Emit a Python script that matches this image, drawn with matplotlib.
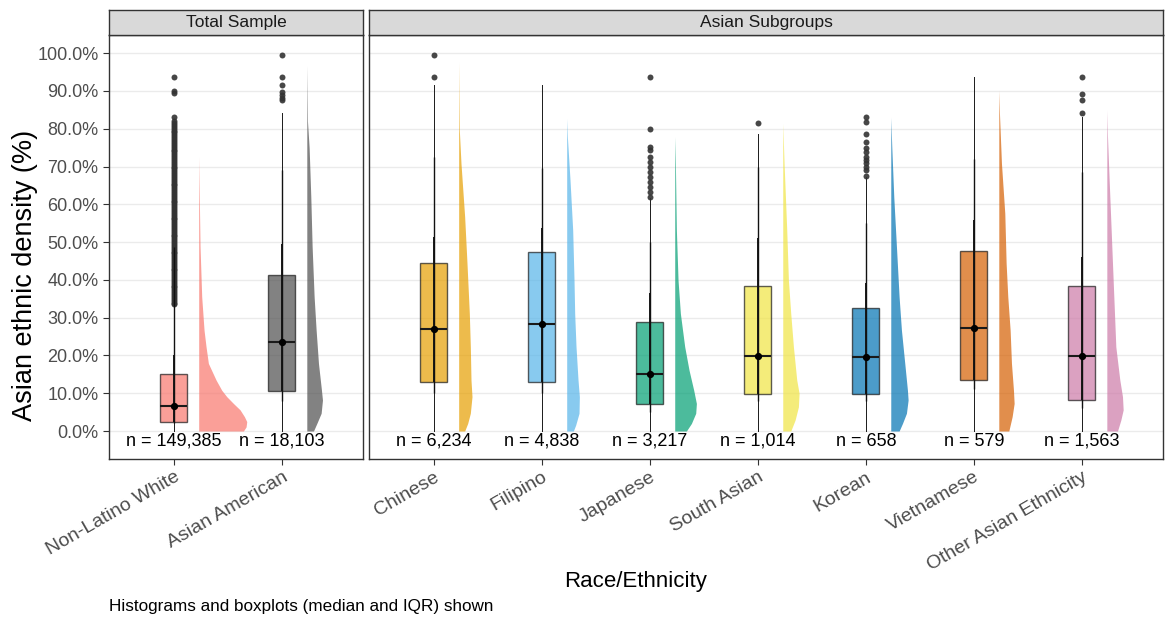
import matplotlib
matplotlib.use("Agg")
import matplotlib.pyplot as plt
from matplotlib.ticker import FuncFormatter

plt.rcParams['font.family'] = ['Liberation Sans', 'DejaVu Sans']

# ---- data (percent) ----
total_groups = ["Non-Latino White", "Asian American"]
asian_groups = ["Chinese", "Filipino", "Japanese", "South Asian", "Korean",
                "Vietnamese", "Other Asian Ethnicity"]
groups = total_groups + asian_groups

n_obs = [149385, 18103, 6234, 4838, 3217, 1014, 658, 579, 1563]

q1 = [2.5, 10.7, 12.9, 12.9, 7.1, 9.7, 9.7, 13.5, 8.2]
median = [6.7, 23.5, 27.1, 28.2, 15.0, 19.9, 19.7, 27.3, 19.8]
q3 = [15.0, 41.4, 44.4, 47.4, 28.8, 38.4, 32.6, 47.6, 38.4]
whisker_lo = [0, 0, 0, 0, 0, 0, 0, 0, 0]
whisker_hi = [33.3, 84.2, 91.5, 91.5, 61.6, 78.6, 67.3, 93.7, 83.0]

# quantile intervals drawn on top of whiskers
int95_lo = [2.0, 8.0, 10.0, 10.0, 5.0, 8.0, 8.0, 11.0, 6.0]
int95_hi = [48.8, 69.0, 72.6, 69.5, 50.0, 69.9, 55.0, 72.1, 68.6]
int66_lo = [2.5, 10.7, 12.9, 12.9, 7.1, 9.7, 9.7, 13.5, 8.2]
int66_hi = [20.0, 49.6, 51.4, 53.6, 36.4, 51.0, 39.1, 55.8, 46.1]

outliers = [
    [33.5, 34, 34.5, 35, 35.5, 36, 36.5, 37, 37.5, 38, 38.5, 39, 39.5, 40,
     40.5, 41, 41.5, 42, 42.5, 43, 43.5, 44, 44.5, 45, 45.5, 46, 46.5, 47,
     47.5, 48, 48.5, 49, 49.5, 50, 50.5, 51, 51.5, 52, 52.5, 53, 53.5, 54,
     54.5, 55, 55.5, 56, 56.5, 57, 57.5, 58, 58.5, 59, 59.5, 60, 60.5, 61,
     61.5, 62, 62.5, 63, 63.5, 64, 64.5, 65, 65.5, 66, 66.5, 67, 67.5, 68,
     68.5, 69, 69.5, 70, 70.5, 71, 71.5, 72, 72.5, 73, 73.5, 74, 74.5, 75,
     75.5, 76, 76.5, 77, 77.5, 78, 78.5, 79, 79.5, 80, 80.5, 81, 81.5, 82,
     83.0, 89.4, 90.0, 93.7],
    [87.6, 88.2, 88.9, 89.8, 91.7, 93.7, 99.6],
    [93.7, 99.6],
    [],
    [62.0, 63.3, 64.6, 66.0, 67.3, 68.6, 69.9, 71.3, 72.6, 74.3, 75.2, 79.8, 93.7],
    [81.4],
    [67.5, 69.0, 69.9, 70.8, 71.7, 72.6, 73.9, 74.8, 76.5, 78.7, 81.8, 83.0],
    [],
    [84.2, 87.6, 89.3, 93.7],
]

# histogram profiles: y level (%) and relative density
hist_y = [
    [0, 1.1, 2.5, 3.8, 5.6, 7.3, 9.1, 10.8, 13.5, 17.9, 22.3, 26.7, 35.5, 48.8, 72.6],
    [0, 2, 4.7, 8.2, 10.8, 17.9, 26.7, 35.5, 48.8, 62, 75, 82, 96.8],
    [0, 2, 4.7, 9.1, 13.5, 22.3, 31.1, 44.4, 56.7, 70.8, 79.6, 97.7],
    [0, 1.6, 4.7, 9.1, 13.5, 22.3, 31.1, 39.9, 53.2, 66.4, 77.9, 82.7],
    [0, 2, 4.7, 7.3, 10.8, 16.1, 22.3, 31.1, 39.9, 53.2, 70.8, 77.9],
    [0, 2.9, 6.4, 10, 13.5, 22.3, 31.1, 39.9, 53.2, 70.8, 81.4],
    [0, 2, 4.7, 8.2, 10.8, 17.9, 26.7, 35.5, 48.8, 62, 75.2, 83],
    [0, 3.8, 7.3, 10.8, 17.9, 26.7, 35.5, 44.4, 57.6, 70.8, 84, 90.2],
    [0, 2.9, 5.6, 9.1, 13.5, 22.3, 26.7, 39.9, 53.2, 66.4, 77.9, 84.9],
]
hist_w = [
    [134, 142, 144, 137, 124, 104, 84, 69, 52, 29, 22, 16, 9, 4, 0],
    [20, 30, 43, 47, 44, 35, 28, 22, 16, 12, 7, 2, 0],
    [18, 27, 35, 40, 37, 35, 32, 25, 18, 7, 2, 0],
    [20, 27, 37, 38, 34, 28, 24, 22, 18, 10, 2, 0],
    [35, 50, 63, 65, 57, 43, 30, 17, 10, 5, 2, 0],
    [24, 37, 47, 49, 42, 32, 24, 17, 12, 4, 0],
    [25, 35, 47, 52, 50, 42, 32, 25, 17, 9, 3, 0],
    [30, 40, 46, 44, 38, 34, 27, 22, 18, 8, 2, 0],
    [32, 42, 49, 47, 39, 27, 25, 19, 13, 7, 2, 0],
]

colors = ["#F8766D", "#4D4D4D", "#E69F00", "#56B4E9", "#009E73", "#F0E442",
          "#0072B2", "#D55E00", "#CC79A7"]

# ---- figure ----
W, H = 1165, 619
fig = plt.figure(figsize=(W / 100, H / 100), dpi=100)


def px_axes(x0, y0, x1, y1):
    return fig.add_axes([x0 / W, 1 - y1 / H, (x1 - x0) / W, (y1 - y0) / H])


panel_top, panel_bot = 35, 459
ax1 = px_axes(109, panel_top, 363, panel_bot)
ax2 = px_axes(369, panel_top, 1163, panel_bot)
s1 = px_axes(109, 9.5, 363, panel_top)
s2 = px_axes(369, 9.5, 1163, panel_top)

for s, label in [(s1, "Total Sample"), (s2, "Asian Subgroups")]:
    s.set_facecolor("#D9D9D9")
    s.set_xticks([])
    s.set_yticks([])
    for sp in s.spines.values():
        sp.set_color("#333333")
        sp.set_linewidth(1.0)
    s.text(0.5, 0.5, label, ha="center", va="center", fontsize=12.5,
           color="#1A1A1A", transform=s.transAxes)


def draw_panel(ax, idx):
    names = [groups[i] for i in idx]
    pos = list(range(1, len(idx) + 1))
    for p, i in zip(pos, idx):
        c = colors[i]
        # histogram slab
        ax.fill_betweenx(hist_y[i], p + 0.23,
                         [p + 0.23 + w / 324 for w in hist_w[i]],
                         color=c, alpha=0.7, lw=0, zorder=2)
        stats = [dict(med=median[i], q1=q1[i], q3=q3[i], whislo=whisker_lo[i],
                      whishi=whisker_hi[i], fliers=outliers[i])]
        ax.bxp(stats, positions=[p], widths=0.25, patch_artist=True,
               showcaps=False, manage_ticks=False,
               boxprops=dict(facecolor=c, alpha=0.7, edgecolor="#1A1A1A", lw=1.0),
               medianprops=dict(color="#1A1A1A", lw=1.5),
               whiskerprops=dict(color="#1A1A1A", lw=0.7),
               flierprops=dict(marker="o", markersize=4.3, markerfacecolor="#333333",
                               markeredgecolor="none", alpha=0.9),
               zorder=3)
        ax.vlines(p, int95_lo[i], int95_hi[i], color="#111111", lw=1.0, zorder=4)
        ax.vlines(p, int66_lo[i], int66_hi[i], color="#111111", lw=1.35, zorder=4)
        ax.plot(p, median[i], "o", color="black", ms=4.2, zorder=5)
        ax.text(p, -2.7, f"n = {n_obs[i]:,}", ha="center", va="center",
                fontsize=13, color="black")
    ax.set_xlim(0.4, len(idx) + 0.75)
    ax.set_ylim(-7.4, 104.8)
    ax.set_xticks(pos)
    ax.set_xticklabels(names, rotation=30, ha="right", va="top",
                       rotation_mode="anchor", fontsize=14, color="#4D4D4D")
    ax.set_yticks([0, 10, 20, 30, 40, 50, 60, 70, 80, 90, 100])
    ax.grid(axis="y", color="#EBEBEB", lw=1.0)
    ax.set_axisbelow(True)
    ax.tick_params(axis="both", length=4, color="#333333", width=0.8)
    ax.tick_params(axis="x", pad=3)
    for sp in ax.spines.values():
        sp.set_color("#333333")
        sp.set_linewidth(1.0)


draw_panel(ax1, [0, 1])
draw_panel(ax2, [2, 3, 4, 5, 6, 7, 8])

ax1.yaxis.set_major_formatter(FuncFormatter(lambda v, _: f"{v:.1f}%"))
ax1.tick_params(axis="y", labelsize=13, labelcolor="#4D4D4D")
ax2.tick_params(axis="y", left=False, labelleft=False)

fig.text(25 / W, 1 - 275 / H, "Asian ethnic density (%)", rotation=90,
         ha="center", va="center", fontsize=19.5, color="black")
fig.text(636 / W, 1 - 581 / H, "Race/Ethnicity", ha="center", va="center",
         fontsize=16, color="black")
fig.text(109 / W, 1 - 607 / H, "Histograms and boxplots (median and IQR) shown",
         ha="left", va="center", fontsize=12.3, color="black")

fig.savefig("out.png", dpi=100)
